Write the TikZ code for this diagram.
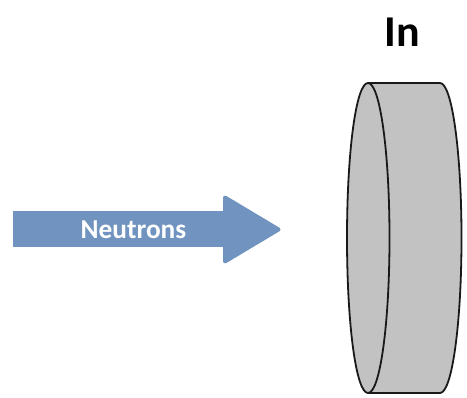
\documentclass[tikz,border=0pt]{standalone}
\usepackage{fontspec}
\setmainfont{Carlito}
\definecolor{arrowblue}{HTML}{7094BF}
\definecolor{diskgray}{HTML}{C2C2C2}
\tikzset{
  pix/.style={x=0.75pt,y=-0.75pt},
  disk/.style={fill=diskgray,draw=black!90,line width=1.35pt,line join=round},
  beam/.style={fill=arrowblue,draw=arrowblue,line width=3pt,line join=round},
  beamlabel/.style={text=white,font=\fontsize{20.5pt}{23pt}\selectfont\bfseries,inner sep=0pt},
  title/.style={text=black,font=\fontsize{33pt}{36pt}\selectfont\bfseries,inner sep=0pt}
}
\begin{document}
\begin{tikzpicture}[pix]
\useasboundingbox (0,0) rectangle (467,398);
% arrow
\path[fill=arrowblue] (13,211) -- (224,211) -- (224,247.5) -- (13,247.5) -- cycle;
\path[beam] (225,211) -- (225,197.5) -- (278.5,229.5) -- (225,261.5) -- (225,247.5) -- cycle;
\node[beamlabel] (neutrons) at (133.5,230) {Neutrons};
% disk body
\path[disk] (368,83) -- (440,83) .. controls (452,83) and (461.5,152) .. (461.5,238)
  .. controls (461.5,324) and (452,393) .. (440,393) -- (368,393);
\path[disk] (368,83) .. controls (380,83) and (389.5,152) .. (389.5,238)
  .. controls (389.5,324) and (380,393) .. (368,393)
  .. controls (356,393) and (347,324) .. (347,238)
  .. controls (347,152) and (356,83) .. (368,83) -- cycle;
\node[title] (in) at (402,32) {In};
\end{tikzpicture}
\end{document}
